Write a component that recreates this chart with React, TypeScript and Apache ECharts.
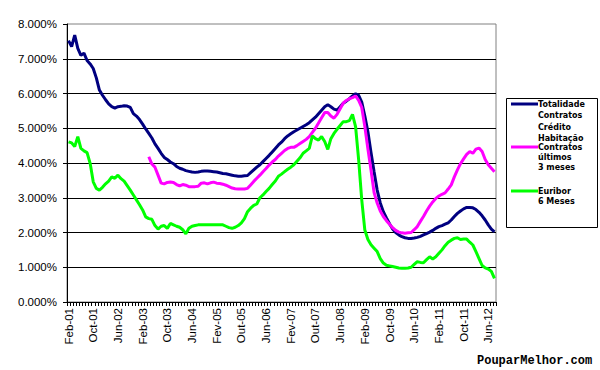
import React, { useEffect, useRef } from "react";
import * as echarts from "echarts";

const MONTHS_EN = ["Jan", "Feb", "Mar", "Apr", "May", "Jun", "Jul", "Aug", "Sep", "Oct", "Nov", "Dec"];
const MONTHS_PT = ["Jan", "Fev", "Mar", "Abr", "Mai", "Jun", "Jul", "Ago", "Set", "Out", "Nov", "Dez"];

// Monthly categories Feb-01 .. Aug-12 (Portuguese month names used for 2005-2008, as in the source)
const categories: string[] = [];
for (let k = 0; k < 139; k++) {
  const m = (1 + k) % 12;
  const y = 2001 + Math.floor((1 + k) / 12);
  const names = y >= 2005 && y <= 2008 ? MONTHS_PT : MONTHS_EN;
  categories.push(names[m] + "-" + String(y % 100).padStart(2, "0"));
}

const yTicks = [0, 1, 2, 3, 4, 5, 6, 7, 8];

const totalidade = [
  7.52, 7.35, 7.68, 7.30, 7.10, 7.16, 6.95, 6.85, 6.72, 6.45,
  6.10, 5.95, 5.82, 5.70, 5.62, 5.58, 5.62, 5.63, 5.65, 5.64,
  5.60, 5.42, 5.35, 5.25, 5.12, 4.98, 4.85, 4.72, 4.55, 4.42,
  4.28, 4.16, 4.10, 4.03, 3.98, 3.90, 3.85, 3.82, 3.78, 3.76,
  3.74, 3.73, 3.74, 3.76, 3.77, 3.77, 3.76, 3.75, 3.74, 3.72,
  3.70, 3.69, 3.67, 3.65, 3.63, 3.62, 3.62, 3.63, 3.64, 3.72,
  3.80, 3.88, 3.95, 4.04, 4.13, 4.22, 4.32, 4.42, 4.52, 4.60,
  4.70, 4.78, 4.84, 4.90, 4.95, 5.00, 5.05, 5.10, 5.16, 5.24,
  5.32, 5.42, 5.52, 5.62, 5.68, 5.62, 5.55, 5.52, 5.62, 5.72,
  5.78, 5.85, 5.93, 5.99, 5.95, 5.75, 5.35, 4.90, 4.30, 3.75,
  3.22, 2.85, 2.60, 2.42, 2.25, 2.10, 2.00, 1.93, 1.88, 1.85,
  1.83, 1.83, 1.84, 1.86, 1.89, 1.93, 1.97, 2.01, 2.06, 2.12,
  2.17, 2.20, 2.24, 2.28, 2.36, 2.46, 2.55, 2.62, 2.68, 2.72,
  2.72, 2.71, 2.66, 2.58, 2.48, 2.36, 2.22, 2.10, 2.02,
];

const ultimos3 = [
  null, null, null, null, null, null, null, null, null, null,
  null, null, null, null, null, null, null, null, null, null,
  null, null, null, null, null, null, 4.18, 3.97, 3.88, 3.65,
  3.42, 3.40, 3.44, 3.45, 3.44, 3.38, 3.34, 3.38, 3.36, 3.32,
  3.32, 3.32, 3.33, 3.42, 3.43, 3.40, 3.43, 3.45, 3.42, 3.41,
  3.39, 3.36, 3.32, 3.28, 3.26, 3.25, 3.25, 3.25, 3.27, 3.37,
  3.47, 3.56, 3.65, 3.75, 3.84, 3.94, 4.03, 4.10, 4.20, 4.28,
  4.36, 4.42, 4.45, 4.45, 4.50, 4.56, 4.62, 4.68, 4.76, 4.88,
  5.00, 5.15, 5.30, 5.45, 5.45, 5.35, 5.29, 5.40, 5.56, 5.72,
  5.80, 5.85, 5.88, 5.93, 5.80, 5.60, 5.05, 4.40, 3.80, 3.15,
  2.85, 2.62, 2.46, 2.34, 2.24, 2.14, 2.06, 2.01, 1.99, 1.98,
  1.99, 2.00, 2.08, 2.17, 2.32, 2.46, 2.62, 2.76, 2.88, 2.98,
  3.05, 3.10, 3.14, 3.25, 3.37, 3.60, 3.80, 3.98, 4.12, 4.25,
  4.33, 4.28, 4.40, 4.43, 4.33, 4.10, 3.95, 3.85, 3.75,
];

const euribor6m = [
  4.61, 4.58, 4.47, 4.76, 4.42, 4.35, 4.30, 3.99, 3.46, 3.27,
  3.22, 3.30, 3.40, 3.48, 3.60, 3.56, 3.65, 3.55, 3.48, 3.35,
  3.22, 3.08, 2.94, 2.80, 2.65, 2.45, 2.40, 2.38, 2.20, 2.10,
  2.18, 2.20, 2.12, 2.26, 2.22, 2.18, 2.15, 2.08, 1.96, 2.12,
  2.18, 2.20, 2.22, 2.22, 2.22, 2.22, 2.22, 2.22, 2.22, 2.22,
  2.22, 2.18, 2.14, 2.12, 2.15, 2.20, 2.28, 2.40, 2.60, 2.70,
  2.78, 2.82, 3.00, 3.08, 3.18, 3.27, 3.38, 3.48, 3.62, 3.68,
  3.75, 3.82, 3.88, 3.95, 4.05, 4.15, 4.28, 4.35, 4.42, 4.78,
  4.70, 4.66, 4.76, 4.62, 4.39, 4.70, 4.85, 4.97, 5.08, 5.19,
  5.19, 5.22, 5.40, 5.05, 4.09, 2.94, 2.07, 1.80, 1.65, 1.55,
  1.45, 1.25, 1.12, 1.06, 1.04, 1.02, 1.00, 0.98, 0.97, 0.97,
  0.98, 1.00, 1.08, 1.16, 1.14, 1.13, 1.22, 1.30, 1.24, 1.30,
  1.40, 1.50, 1.62, 1.72, 1.78, 1.83, 1.85, 1.80, 1.81, 1.81,
  1.72, 1.64, 1.45, 1.25, 1.05, 0.98, 0.95, 0.88, 0.68,
];

const seriesNames = ["Totalidade\nContratos\nCrédito\nHabitação", "Contratos\núltimos\n3 meses", "Euribor\n6 Meses"];
const seriesColors = ["#000080", "#FF00FF", "#00FF00"];
const watermark = "PouparMelhor.com";

export default function App() {
  const ref = useRef<HTMLDivElement>(null);
  useEffect(() => {
    if (!ref.current) return;
    const chart = echarts.init(ref.current, null, { renderer: "svg" });
    const legendTops = [99, 142, 186];
    const legendLineH = [11.3, 10, 10.5];
    const legendGraphics: any[] = [
      {
        type: "rect",
        shape: { x: 506.5, y: 98.5, width: 91, height: 129 },
        style: { fill: "#fff", stroke: "#000", lineWidth: 1 },
      },
    ];
    seriesNames.forEach((name, idx) => {
      legendGraphics.push({
        type: "line",
        shape: { x1: 511, y1: legendTops[idx] + 5, x2: 538, y2: legendTops[idx] + 5 },
        style: { stroke: seriesColors[idx], lineWidth: 3 },
      });
      legendGraphics.push({
        type: "text",
        x: 538,
        y: legendTops[idx],
        style: {
          text: name,
          fill: "#000",
          font: "bold 8px 'DejaVu Sans'",
          lineHeight: legendLineH[idx],
          verticalAlign: "top",
          align: "left",
        },
      });
    });
    legendGraphics.push({
      type: "text",
      x: 477,
      y: 361,
      style: {
        text: watermark,
        fill: "#000",
        font: "bold 12px 'Liberation Mono'",
        verticalAlign: "middle",
        align: "left",
      },
    });

    chart.setOption({
      animation: false,
      backgroundColor: "#fff",
      grid: {
        left: 67,
        right: 104,
        top: 24,
        bottom: 68,
        show: true,
        borderColor: "#808080",
        borderWidth: 1,
        backgroundColor: "transparent",
      },
      xAxis: {
        type: "category",
        data: categories,
        boundaryGap: true,
        axisLine: { lineStyle: { color: "#000", width: 1 } },
        axisTick: { show: true, interval: 0, length: 4, lineStyle: { color: "#000" } },
        axisLabel: {
          interval: 7,
          rotate: 90,
          margin: 6,
          color: "#000",
          fontSize: 11.5,
          fontFamily: "'Liberation Sans', Arial",
        },
        splitLine: { show: false },
      },
      yAxis: {
        type: "value",
        min: yTicks[0],
        max: yTicks[yTicks.length - 1],
        interval: 1,
        axisLine: { show: true, lineStyle: { color: "#000", width: 1 } },
        axisTick: { show: true, length: 4, lineStyle: { color: "#000" } },
        axisLabel: {
          margin: 10,
          color: "#000",
          fontSize: 11.5,
          fontFamily: "'Liberation Sans', Arial",
          formatter: (v: number) => v.toFixed(3) + "%",
        },
        splitLine: { show: true, showMaxLine: false, lineStyle: { color: "#000", width: 1 } },
      },
      series: [totalidade, ultimos3, euribor6m].map((d, idx) => ({
        name: seriesNames[idx],
        type: "line",
        data: d,
        showSymbol: false,
        connectNulls: false,
        lineStyle: { color: seriesColors[idx], width: 3 },
        itemStyle: { color: seriesColors[idx] },
      })),
      graphic: legendGraphics,
    });
    return () => chart.dispose();
  }, []);
  return (
    <div
      ref={ref}
      style={{ position: "fixed", left: 0, top: 0, width: 600, height: 370, background: "#fff" }}
    />
  );
}
